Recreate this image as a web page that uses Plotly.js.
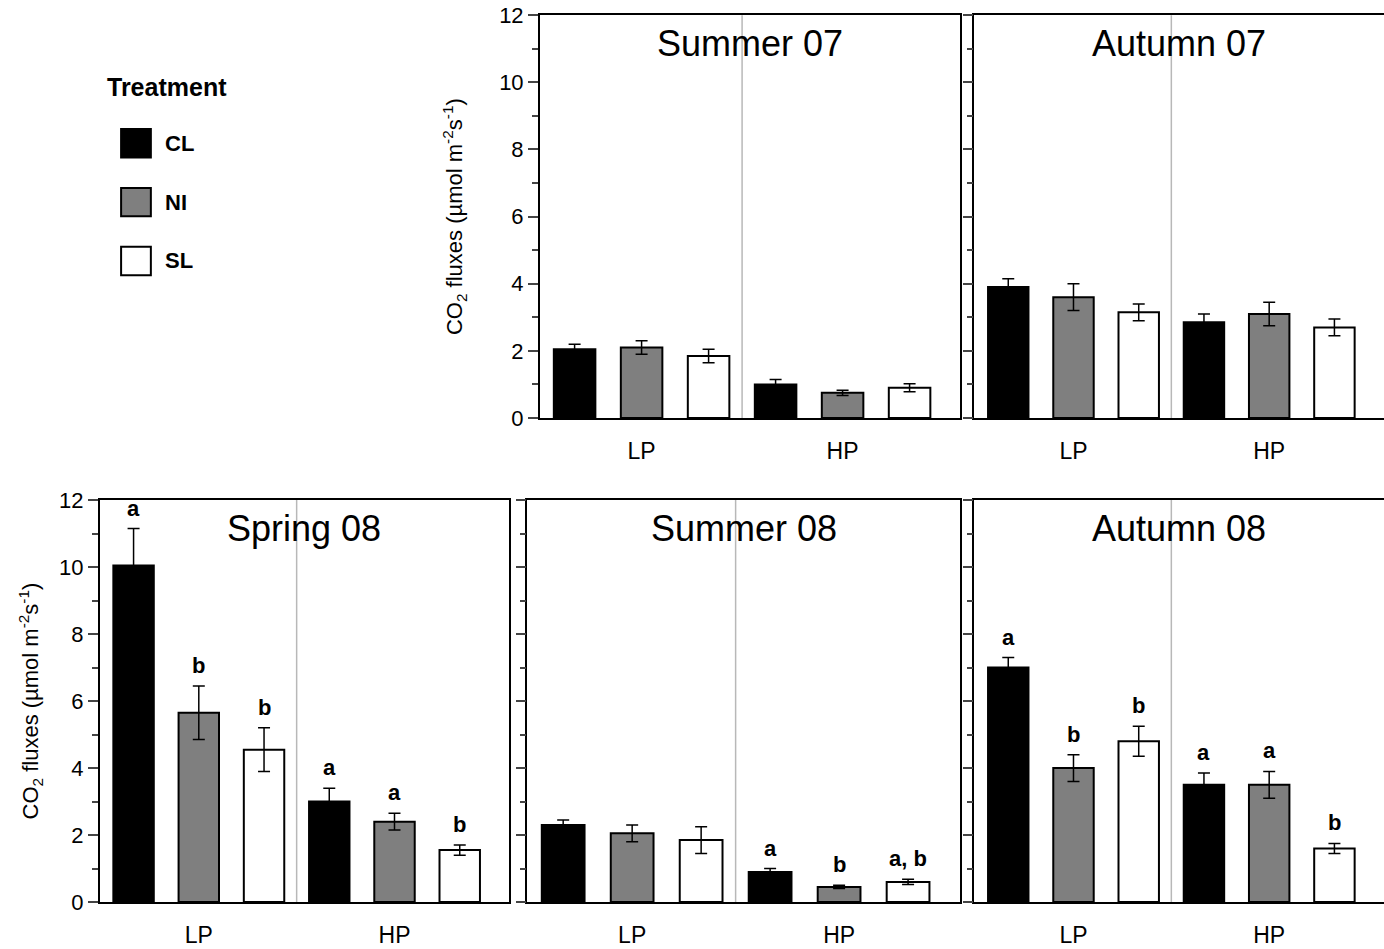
<!DOCTYPE html>
<html>
<head>
<script src="https://cdn.plot.ly/plotly-3.0.1.min.js"></script>
<style>body{margin:0;background:#fff}</style>
</head>
<body>
<div id="chart" style="width:1384px;height:949px"></div>
<script>
var treatments = ['CL', 'NI', 'SL'];
var colors = ['#000000', '#7f7f7f', '#ffffff'];
var xpos = [1, 2, 3, 4, 5, 6];

var panelNames = ['Summer 07', 'Autumn 07', 'Spring 08', 'Summer 08', 'Autumn 08'];
// per panel: values for LP CL,NI,SL then HP CL,NI,SL
var summer07 = [2.05, 2.1, 1.85, 1.0, 0.75, 0.9];
var summer07Err = [0.15, 0.2, 0.2, 0.15, 0.08, 0.12];
var autumn07 = [3.9, 3.6, 3.15, 2.85, 3.1, 2.7];
var autumn07Err = [0.25, 0.4, 0.25, 0.25, 0.35, 0.25];
var spring08 = [10.05, 5.65, 4.55, 3.0, 2.4, 1.55];
var spring08Err = [1.1, 0.8, 0.65, 0.4, 0.25, 0.15];
var summer08 = [2.3, 2.05, 1.85, 0.9, 0.45, 0.6];
var summer08Err = [0.15, 0.25, 0.4, 0.1, 0.05, 0.08];
var autumn08 = [7.0, 4.0, 4.8, 3.5, 3.5, 1.6];
var autumn08Err = [0.3, 0.4, 0.45, 0.35, 0.4, 0.15];
var spring08Letters = ['a', 'b', 'b', 'a', 'a', 'b'];
var summer08Letters = ['', '', '', 'a', 'b', 'a, b'];
var autumn08Letters = ['a', 'b', 'b', 'a', 'a', 'b'];

var panels = [
  {vals: summer07, err: summer07Err, letters: null, x: [0.390, 0.694], y: [0.5595, 0.984]},
  {vals: autumn07, err: autumn07Err, letters: null, x: [0.704, 1.0], y: [0.5595, 0.984]},
  {vals: spring08, err: spring08Err, letters: spring08Letters, x: [0.072, 0.368], y: [0.0495, 0.473]},
  {vals: summer08, err: summer08Err, letters: summer08Letters, x: [0.381, 0.694], y: [0.0495, 0.473]},
  {vals: autumn08, err: autumn08Err, letters: autumn08Letters, x: [0.704, 1.0], y: [0.0495, 0.473]}
];

var font = 'Liberation Sans, Arial, sans-serif';
var data = [];
var shapes = [];
var annotations = [];
var layout = {
  width: 1384, height: 949,
  margin: {l: 0, r: 0, t: 0, b: 0},
  showlegend: false,
  paper_bgcolor: '#fff', plot_bgcolor: '#fff',
  font: {family: font, color: '#000'}
};

panels.forEach(function (p, i) {
  var n = i + 1;
  var xa = 'x' + (n === 1 ? '' : n), ya = 'y' + (n === 1 ? '' : n);
  data.push({
    type: 'bar', x: xpos, y: p.vals, xaxis: xa, yaxis: ya, width: 0.62,
    marker: {color: colors.concat(colors), line: {color: '#000', width: 2}},
    error_y: {type: 'data', array: p.err, visible: true, color: '#000', thickness: 1.5, width: 6},
    hoverinfo: 'y'
  });
  layout['xaxis' + (n === 1 ? '' : n)] = {
    domain: p.x, anchor: ya, range: [0.48, 6.76],
    showline: true, mirror: true, linecolor: '#000', linewidth: 1.5,
    showgrid: false, zeroline: false, ticks: '',
    tickmode: 'array', tickvals: [2, 5], ticktext: ['LP', 'HP'],
    tickfont: {size: 23}, ticklabelstandoff: 12, fixedrange: true
  };
  layout['yaxis' + (n === 1 ? '' : n)] = {
    domain: p.y, anchor: xa, range: [0, 12],
    showline: true, mirror: true, linecolor: '#000', linewidth: 1.5,
    showgrid: false, zeroline: false,
    ticks: 'outside', ticklen: 10, tickwidth: 1.5, dtick: 2,
    showticklabels: (n === 1 || n === 3), tickfont: {size: 22},
    minor: {dtick: 1, ticks: 'outside', ticklen: 6, tickwidth: 1.5},
    title: (n === 1 || n === 3) ? {text: 'CO<sub>2</sub> fluxes (µmol m<sup>-2</sup>s<sup>-1</sup>)', font: {size: 22}, standoff: n === 1 ? 30 : 14} : undefined,
    fixedrange: true
  };
  shapes.push({type: 'line', xref: xa, yref: ya + ' domain', x0: 3.5, x1: 3.5, y0: 0, y1: 1,
    line: {color: '#b8b8b8', width: 1.5}});
  annotations.push({xref: xa + ' domain', yref: ya + ' domain', x: 0.5, y: 0.985, yanchor: 'top',
    text: panelNames[i], showarrow: false, font: {size: 36}});
  if (p.letters) {
    p.letters.forEach(function (t, k) {
      if (!t) return;
      annotations.push({xref: xa, yref: ya, x: xpos[k], y: p.vals[k] + p.err[k], yanchor: 'bottom', yshift: 6,
        text: '<b>' + t + '</b>', showarrow: false, font: {size: 22}});
    });
  }
});

// legend
annotations.push({xref: 'paper', yref: 'paper', x: 0.076, y: 0.908, xanchor: 'left', yanchor: 'middle',
  text: '<b>Treatment</b>', showarrow: false, font: {size: 25}});
treatments.forEach(function (t, k) {
  var yc = 0.849 - k * 0.062;
  shapes.push({type: 'rect', xref: 'paper', yref: 'paper', x0: 0.0875, x1: 0.109, y0: yc - 0.015, y1: yc + 0.015,
    fillcolor: colors[k], line: {color: '#000', width: 2}});
  annotations.push({xref: 'paper', yref: 'paper', x: 0.118, y: yc, xanchor: 'left', yanchor: 'middle',
    text: '<b>' + t + '</b>', showarrow: false, font: {size: 22}});
});

layout.shapes = shapes;
layout.annotations = annotations;

Plotly.newPlot('chart', data, layout, {displayModeBar: false});
</script>
</body>
</html>
